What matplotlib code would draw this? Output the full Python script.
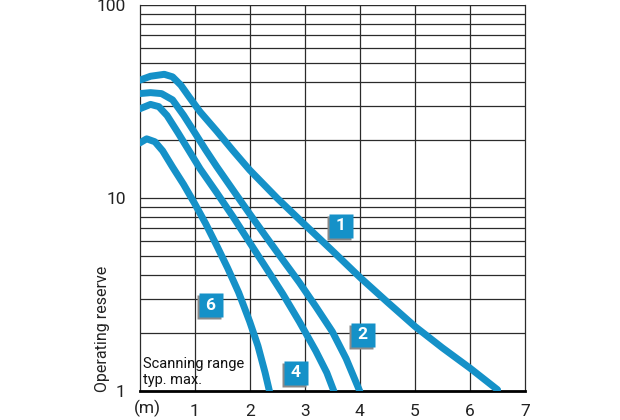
import matplotlib
matplotlib.use("Agg")
import matplotlib.pyplot as plt
import matplotlib.transforms as mtransforms

plt.rcParams['font.family'] = ['Roboto', 'DejaVu Sans']

# curves (x in m, operating reserve)
x1 = [0, 0.2, 0.45, 0.6, 0.75, 0.9, 1.1, 1.4, 1.7, 2.0, 2.5, 3.0, 3.5, 4.0, 4.5, 5.0, 5.5, 6.0, 6.5]
y1 = [40.8, 42.8, 43.8, 42.5, 38.5, 33.5, 28, 22.3, 17.6, 14, 10, 7.3, 5.35, 3.9, 2.9, 2.17, 1.68, 1.32, 1.02]

x2 = [0, 0.2, 0.4, 0.6, 0.8, 1.0, 1.2, 1.4, 1.7, 2.0, 2.3, 2.6, 2.9, 3.2, 3.5, 3.75, 4.0]
y2 = [34.8, 35.2, 34.8, 32.3, 26.9, 21.9, 17.8, 14.6, 11, 8.3, 6.3, 4.8, 3.67, 2.75, 2.04, 1.48, 1.0]

x4 = [0, 0.2, 0.35, 0.5, 0.7, 0.9, 1.1, 1.4, 1.7, 2.0, 2.3, 2.6, 2.9, 3.2, 3.4, 3.53]
y4 = [29, 30.6, 29.8, 26.8, 21.8, 17.6, 14.2, 10.7, 8.0, 5.9, 4.35, 3.2, 2.3, 1.62, 1.25, 1.0]

x6 = [0, 0.13, 0.28, 0.42, 0.6, 0.8, 1.0, 1.2, 1.4, 1.6, 1.8, 2.0, 2.15, 2.28, 2.36]
y6 = [19.3, 20.3, 19.6, 17.6, 14.5, 11.8, 9.4, 7.4, 5.7, 4.35, 3.25, 2.3, 1.72, 1.25, 1.0]

curve_names = ['1', '2', '4', '6']
label_x = [3.65, 4.05, 2.84, 1.29]
label_y = [7.2, 1.97, 1.25, 2.79]

x_ticks = [1, 2, 3, 4, 5, 6, 7]
y_ticks = [1, 10, 100]

blue = '#1591c8'
grid_col = '#2b2b2b'

fig = plt.figure(figsize=(6.2, 4.2), dpi=100)
ax = fig.add_axes([0.225, 0.068, 0.622, 0.920])
ax.set_yscale('log')
ax.set_xlim(0, 7)
ax.set_ylim(1, 100)

# grid
for xv in range(1, 7):
    ax.axvline(xv, color=grid_col, lw=0.9, zorder=1)
for dec in (1, 10):
    for m in range(2, 10):
        ax.axhline(dec * m, color=grid_col, lw=0.9, zorder=1)
ax.axhline(10, color=grid_col, lw=0.9, zorder=1)
ax.axhline(100, color=grid_col, lw=1.0, zorder=1)

for s in ['left', 'right']:
    ax.spines[s].set_color(grid_col)
    ax.spines[s].set_linewidth(0.9)
ax.spines['top'].set_visible(False)
ax.spines['bottom'].set_color('black')
ax.spines['bottom'].set_linewidth(2.0)

for xs, ys in [(x1, y1), (x2, y2), (x4, y4), (x6, y6)]:
    ax.plot(xs, ys, color=blue, lw=5.0, solid_capstyle='round',
            solid_joinstyle='round', zorder=3)

# numbered boxes with a small grey shadow
shadow = mtransforms.offset_copy(ax.transData, fig=fig, x=-2, y=-2, units='dots')
for name, lx, ly in zip(curve_names, label_x, label_y):
    ax.plot(lx, ly, marker='s', ms=17, color='#8a8a8a', mec='none',
            transform=shadow, zorder=4)
    ax.plot(lx, ly, marker='s', ms=17, color=blue, mec='none', zorder=5)
    ax.text(lx, ly, name, color='white', fontsize=12.5, fontweight='bold',
            ha='center', va='center', zorder=6)

ax.set_xticks(x_ticks)
ax.set_xticklabels([str(v) for v in x_ticks])
ax.set_yticks(y_ticks)
ax.set_yticklabels([str(v) for v in y_ticks])
ax.minorticks_off()
ax.tick_params(axis='both', length=0, labelsize=12.5, colors='#222222')
ax.tick_params(axis='x', pad=9)
ax.tick_params(axis='y', pad=10)

ax.text(0.15, -0.043, '(m)', transform=ax.get_xaxis_transform(),
        ha='center', va='center', fontsize=12.5, color='#222222')

ax.text(0.07, 1.06, 'Scanning range\ntyp. max.', fontsize=10.5,
        color='#111111', ha='left', va='bottom', linespacing=1.15, zorder=2)

fig.text(102 / 620, 28 / 420, 'Operating reserve', rotation=90,
         ha='center', va='bottom', fontsize=11.5, color='#222222')

fig.savefig('out.png', dpi=100, facecolor='white')
